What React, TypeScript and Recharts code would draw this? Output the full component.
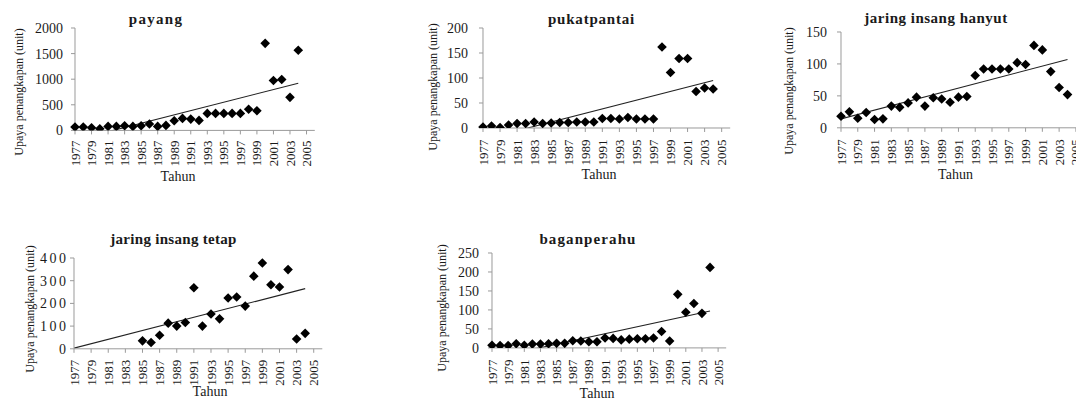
import { ScatterChart, Scatter, XAxis, YAxis, ReferenceLine } from "recharts";

// ── Data ─────────────────────────────────────────────────────────────

const years = [
  1977, 1978, 1979, 1980, 1981, 1982, 1983, 1984, 1985, 1986, 1987, 1988, 1989, 1990,
  1991, 1992, 1993, 1994, 1995, 1996, 1997, 1998, 1999, 2000, 2001, 2002, 2003, 2004,
];

const payang = [
  65, 65, 52, 33, 78, 78, 91, 78, 91, 124, 78, 98, 189, 234,
  221, 195, 332, 332, 332, 332, 332, 413, 385, 1700, 975, 995, 645, 1565,
];
const pukatPantai = [
  2, 4, 1, 6, 9, 9, 12, 9, 10, 11, 11, 12, 12, 12,
  19, 19, 18, 21, 18, 18, 18, 162, 111, 139, 139, 73, 80, 78,
];
const jaringInsangHanyut = [
  18, 25, 15, 24, 13, 14, 34, 32, 39, 48, 34, 47, 45, 40,
  48, 49, 82, 92, 92, 92, 92, 102, 99, 129, 122, 88, 63, 52,
];
const jaringInsangTetap: (number | null)[] = [
  null, null, null, null, null, null, null, null, 35, 28, 60, 113, 100, 116,
  269, 100, 153, 132, 224, 228, 188, 320, 378, 282, 272, 349, 43, 68,
];
const baganPerahu = [
  7, 6, 6, 11, 7, 10, 10, 11, 12, 12, 19, 18, 16, 16,
  26, 25, 21, 23, 24, 24, 26, 43, 18, 141, 94, 117, 91, 212,
];

// linear trend values at 1977 and 2004
const payangTrend = [-190, 920];
const pukatPantaiTrend = [-23, 95];
const jaringInsangHanyutTrend = [14, 107];
const jaringInsangTetapTrend = [3, 265];
const baganPerahuTrend = [-27, 97];

const yearTicks = [1977, 1979, 1981, 1983, 1985, 1987, 1989, 1991, 1993, 1995, 1997, 1999, 2001, 2003, 2005];
const payangTicks = [0, 500, 1000, 1500, 2000];
const pukatPantaiTicks = [0, 50, 100, 150, 200];
const jaringInsangHanyutTicks = [0, 50, 100, 150];
const jaringInsangTetapTicks = [0, 100, 200, 300, 400];
const baganPerahuTicks = [0, 50, 100, 150, 200, 250];

// ── Style ────────────────────────────────────────────────────────────

const SERIF = "'Liberation Serif', 'Times New Roman', serif";
const AXIS_GREY = "#9a9a9a";
const INK = "#1a1a1a";
const Y_LABEL = "Upaya penangkapan (unit)";

interface Panel {
  title: string;
  values: (number | null)[];
  trend: number[];
  ticks: number[];
  // plot rectangle on the page (x at 1977 / 2006, y at max / 0)
  left: number;
  right: number;
  top: number;
  bottom: number;
  yTickMargin: number;
  yTickSpacing: number;
  xTickMargin: number;
  titleX: number;
  titleY: number;
  titleSpacing: number;
  yLabelX: number;
  yLabelY: number;
  xLabelX: number;
  xLabelY: number;
}

const panels: Panel[] = [
  {
    title: "payang", values: payang, trend: payangTrend, ticks: payangTicks,
    left: 74.7, right: 314.5, top: 28.3, bottom: 130.7,
    yTickMargin: 8, yTickSpacing: 0, xTickMargin: 6,
    titleX: 156, titleY: 24, titleSpacing: 1.3,
    yLabelX: 18.5, yLabelY: 92, xLabelX: 178, xLabelY: 181,
  },
  {
    title: "pukatpantai", values: pukatPantai, trend: pukatPantaiTrend, ticks: pukatPantaiTicks,
    left: 482.5, right: 729.7, top: 28.3, bottom: 128.3,
    yTickMargin: 11, yTickSpacing: 0, xTickMargin: 7.5,
    titleX: 591.5, titleY: 24, titleSpacing: 0.8,
    yLabelX: 432.5, yLabelY: 87, xLabelX: 599, xLabelY: 179,
  },
  {
    title: "jaring insang hanyut", values: jaringInsangHanyut, trend: jaringInsangHanyutTrend, ticks: jaringInsangHanyutTicks,
    left: 840.5, right: 1083.8, top: 31.7, bottom: 127.5,
    yTickMargin: 10, yTickSpacing: 0, xTickMargin: 7.5,
    titleX: 936, titleY: 23, titleSpacing: 0.5,
    yLabelX: 788.5, yLabelY: 91, xLabelX: 955.5, xLabelY: 179,
  },
  {
    title: "jaring insang tetap", values: jaringInsangTetap, trend: jaringInsangTetapTrend, ticks: jaringInsangTetapTicks,
    left: 73.7, right: 322, top: 257.5, bottom: 348.3,
    yTickMargin: 1.5, yTickSpacing: 2.5, xTickMargin: 7,
    titleX: 173.5, titleY: 244, titleSpacing: 0.3,
    yLabelX: 29.5, yLabelY: 309, xLabelX: 210, xLabelY: 396,
  },
  {
    title: "baganperahu", values: baganPerahu, trend: baganPerahuTrend, ticks: baganPerahuTicks,
    left: 491.5, right: 725.7, top: 252.8, bottom: 347.7,
    yTickMargin: 9, yTickSpacing: 0, xTickMargin: 7.5,
    titleX: 588, titleY: 243.5, titleSpacing: 1.1,
    yLabelX: 441.5, yLabelY: 308, xLabelX: 597, xLabelY: 397.5,
  },
];

// ── Marks ────────────────────────────────────────────────────────────

function Diamond(props: any) {
  const { cx, cy } = props;
  if (cx == null || cy == null) return <g />;
  const r = 4.8;
  return (
    <path
      d={`M${cx},${cy - r}L${cx + r},${cy}L${cx},${cy + r}L${cx - r},${cy}Z`}
      fill="#000"
    />
  );
}

function YearTick({ x, y, payload }: any) {
  return (
    <text
      x={x}
      y={y}
      dy="0.35em"
      transform={`rotate(-90, ${x}, ${y})`}
      textAnchor="end"
      fontFamily={SERIF}
      fontSize={13}
      fill={INK}
    >
      {payload.value}
    </text>
  );
}

// padding between the chart box and the plot area
const PAD_LEFT = 60;
const PAD_TOP = 10;
const PAD_RIGHT = 6;
const PAD_BOTTOM = 45;

function EffortChart({ p }: { p: Panel }) {
  const points = years
    .map((year, i) => ({ year, value: p.values[i] }))
    .filter(d => d.value != null);
  const w = p.right - p.left;
  const h = p.bottom - p.top;
  const max = p.ticks[p.ticks.length - 1];

  return (
    <div style={{ position: "absolute", left: p.left - PAD_LEFT, top: p.top - PAD_TOP }}>
      <ScatterChart
        width={w + PAD_LEFT + PAD_RIGHT}
        height={h + PAD_TOP + PAD_BOTTOM}
        margin={{ top: PAD_TOP, right: PAD_RIGHT, bottom: 0, left: 0 }}
      >
        <XAxis
          dataKey="year"
          type="number"
          domain={[1977, 2006]}
          ticks={yearTicks}
          interval={0}
          height={PAD_BOTTOM}
          tickSize={4}
          tickMargin={p.xTickMargin}
          axisLine={{ stroke: AXIS_GREY }}
          tickLine={{ stroke: AXIS_GREY }}
          tick={<YearTick />}
        />
        <YAxis
          dataKey="value"
          type="number"
          domain={[0, max]}
          ticks={p.ticks}
          interval={0}
          allowDataOverflow
          width={PAD_LEFT}
          tickSize={4}
          tickMargin={p.yTickMargin}
          axisLine={{ stroke: AXIS_GREY }}
          tickLine={{ stroke: AXIS_GREY }}
          tick={{ fontFamily: SERIF, fontSize: 14, fill: INK, letterSpacing: p.yTickSpacing }}
        />
        <ReferenceLine
          segment={[{ x: 1977, y: p.trend[0] }, { x: 2004, y: p.trend[1] }]}
          stroke="#222"
          strokeWidth={1.1}
          ifOverflow="hidden"
        />
        <Scatter data={points} shape={<Diamond />} isAnimationActive={false} />
      </ScatterChart>
    </div>
  );
}

export default function App() {
  return (
    <div
      style={{
        position: "absolute",
        left: 0,
        top: 0,
        width: 1076,
        height: 401,
        overflow: "hidden",
        background: "#fff",
      }}
    >
      {panels.map(p => (
        <EffortChart key={p.title} p={p} />
      ))}

      {/* titles and axis captions */}
      <svg
        width={1076}
        height={401}
        style={{ position: "absolute", left: 0, top: 0, pointerEvents: "none" }}
      >
        {panels.map(p => (
          <g key={p.title} fontFamily={SERIF} fill={INK}>
            <text
              x={p.titleX}
              y={p.titleY}
              textAnchor="middle"
              fontSize={15}
              fontWeight="bold"
              letterSpacing={p.titleSpacing}
            >
              {p.title}
            </text>
            <text
              x={p.yLabelX}
              y={p.yLabelY}
              dy="0.35em"
              transform={`rotate(-90, ${p.yLabelX}, ${p.yLabelY})`}
              textAnchor="middle"
              fontSize={12}
            >
              {Y_LABEL}
            </text>
            <text x={p.xLabelX} y={p.xLabelY} textAnchor="middle" fontSize={14}>
              Tahun
            </text>
          </g>
        ))}
      </svg>
    </div>
  );
}
